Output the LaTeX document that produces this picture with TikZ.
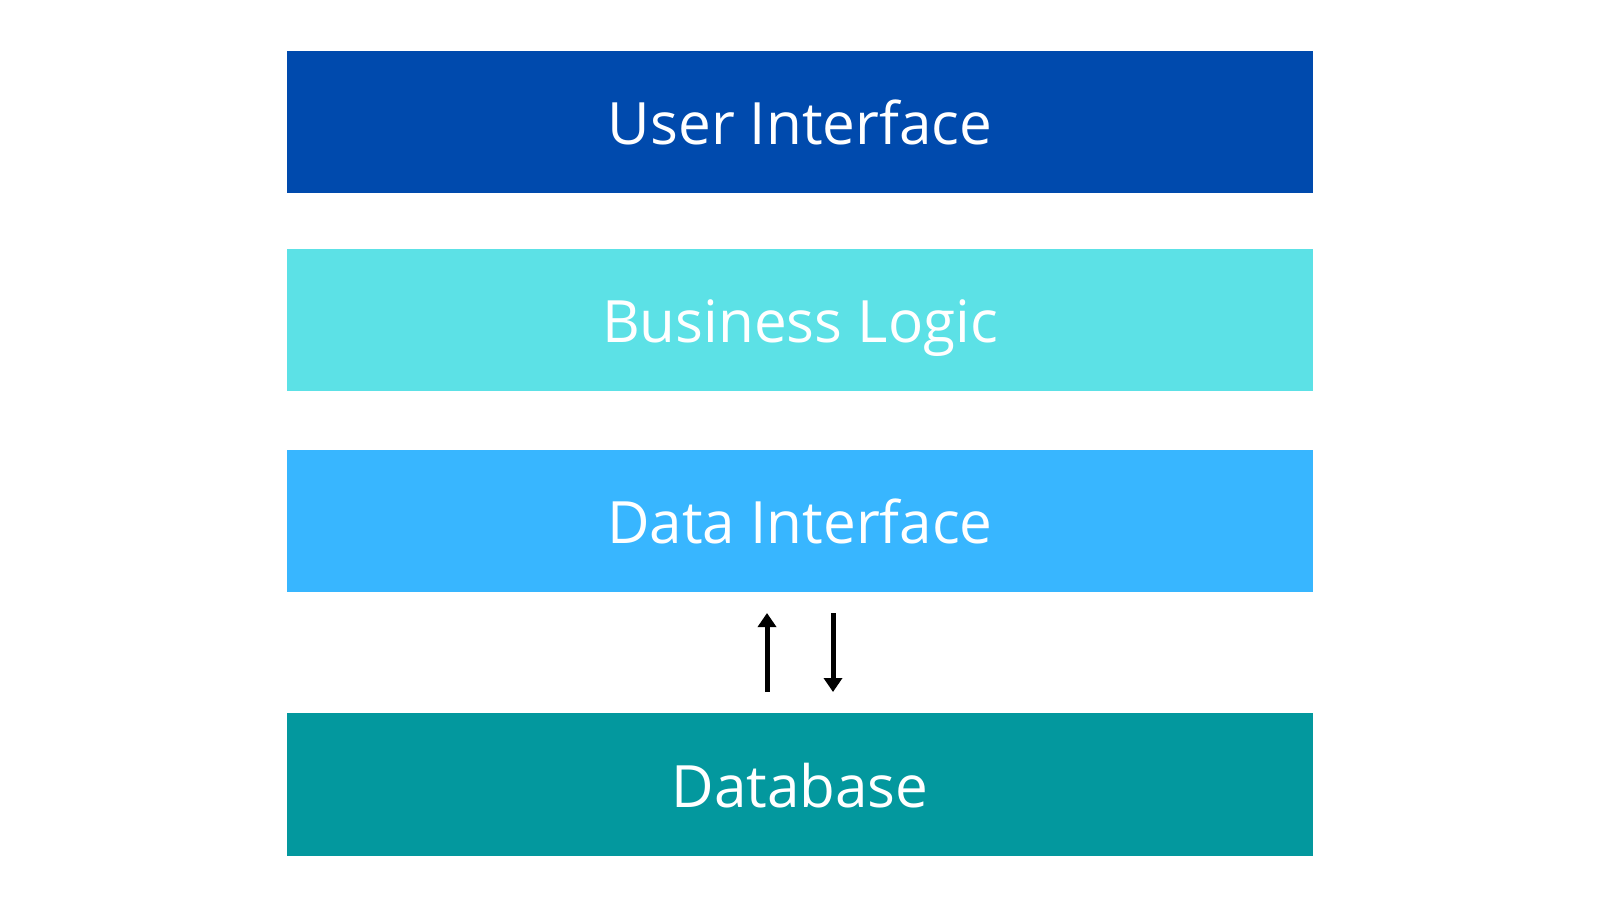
\documentclass[tikz,border=0pt]{standalone}
\usepackage{fontspec}
\setmainfont{Open Sans}
\usepackage{tikz}
\usetikzlibrary{arrows.meta}
\definecolor{uiblue}{HTML}{004AAD}
\definecolor{logiccyan}{HTML}{5CE1E6}
\definecolor{datablue}{HTML}{38B6FF}
\definecolor{dbteal}{HTML}{03989E}

\begin{document}
\begin{tikzpicture}[x=0.01cm,y=-0.01cm,
  layer/.style={minimum width=10.26cm,minimum height=1.42cm,inner sep=0pt,
    text=white,font=\fontsize{16.6}{20}\selectfont,text height=13pt,text depth=0pt},
  flow/.style={line width=0.05cm,-{Triangle[width=0.18cm,length=0.14cm]}}]
\useasboundingbox (0,0) rectangle (1600,900);
\node[layer,fill=uiblue] (ui) at (800,122) {User Interface};
\node[layer,fill=logiccyan] (logic) at (800,320) {Business Logic};
\node[layer,fill=datablue] (data) at (800,521) {Data Interface};
\node[layer,fill=dbteal] (db) at (800,784.5) {Database};
% arrows between data interface and database
\coordinate (upfrom) at (767,692);
\coordinate (upto) at (767,613);
\coordinate (downfrom) at (833,613);
\coordinate (downto) at (833,692);
\draw[flow] (upfrom) -- (upto);
\draw[flow] (downfrom) -- (downto);
\end{tikzpicture}
\end{document}
